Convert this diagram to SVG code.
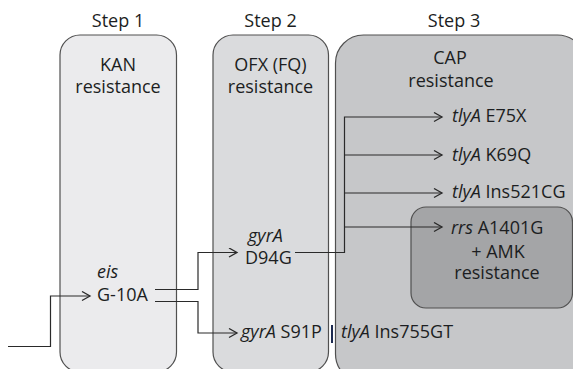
<svg xmlns="http://www.w3.org/2000/svg" width="573" height="369" viewBox="0 0 573 369">
<defs>
<style>
.box{stroke:#505050;stroke-width:1.2}
text{font-family:"Open Sans","DejaVu Sans",sans-serif;font-size:18px;fill:#1c1e22}
.c{text-anchor:middle}
.i{font-style:italic}
.conn{fill:none;stroke:#2a2a2a;stroke-width:1.2}
</style>
<marker id="arr" markerWidth="12" markerHeight="12" refX="9" refY="5" orient="auto" markerUnits="userSpaceOnUse">
<path d="M1,0.5 L9,5 L1,9.5" fill="none" stroke="#2a2a2a" stroke-width="1.3"/>
</marker>
</defs>
<rect width="573" height="369" fill="#ffffff"/>
<g id="step1">
<text class="c" x="118" y="27">Step 1</text>
<rect class="box" x="60" y="35" width="116.5" height="337" rx="20" fill="#ebebed"/>
<text class="c" x="118" y="71">KAN</text>
<text class="c" x="118" y="92.5">resistance</text>
</g>
<g id="step2">
<text class="c" x="270.5" y="27">Step 2</text>
<rect class="box" x="213" y="35" width="115.5" height="337" rx="20" fill="#dadbdd"/>
<text class="c" x="270.5" y="71">OFX (FQ)</text>
<text class="c" x="270.5" y="92.5">resistance</text>
</g>
<g id="step3">
<text class="c" x="454" y="27">Step 3</text>
<rect class="box" x="335.5" y="35" width="250" height="347" rx="28" fill="#c6c7c9"/>
<text class="c" x="450" y="64">CAP</text>
<text class="c" x="451" y="87">resistance</text>
</g>
<g id="rrs">
<rect class="box" x="411" y="207" width="161.5" height="101" rx="15" fill="#a4a5a7"/>
<text x="451" y="234"><tspan class="i">rrs</tspan> A1401G</text>
<text class="c" x="498" y="258">+ AMK</text>
<text class="c" x="497" y="278.5">resistance</text>
</g>
<g id="eis">
<text class="i" x="97" y="278">eis</text>
<text x="97" y="301">G-10A</text>
</g>
<g id="gyrA-D94G">
<text class="i" x="248" y="242">gyrA</text>
<text x="245" y="263.5">D94G</text>
</g>
<g id="gyrA-S91P">
<text x="241" y="338"><tspan class="i">gyrA</tspan> S91P</text>
<line x1="332" y1="325" x2="332" y2="343" stroke="#1c2a50" stroke-width="2"/>
<text x="341" y="338"><tspan class="i">tlyA</tspan> Ins755GT</text>
</g>
<g id="tlyA-E75X"><text x="452" y="122"><tspan class="i">tlyA</tspan> E75X</text></g>
<g id="tlyA-K69Q"><text x="452" y="161"><tspan class="i">tlyA</tspan> K69Q</text></g>
<g id="tlyA-Ins521CG"><text x="452" y="198"><tspan class="i">tlyA</tspan> Ins521CG</text></g>
<g id="connectors" class="conn">
<path class="conn" d="M8,346.5 H50.5 V296 H90" marker-end="url(#arr)"/>
<path class="conn" d="M155,289.5 H198 V252.5 H237" marker-end="url(#arr)"/>
<path class="conn" d="M155,301.5 H198 V333 H237" marker-end="url(#arr)"/>
<path class="conn" d="M295,252.5 H344.5 V117 H442" marker-end="url(#arr)"/>
<path class="conn" d="M344.5,155 H442" marker-end="url(#arr)"/>
<path class="conn" d="M344.5,193 H442" marker-end="url(#arr)"/>
<path class="conn" d="M344.5,227 H442" marker-end="url(#arr)"/>
</g>
</svg>
